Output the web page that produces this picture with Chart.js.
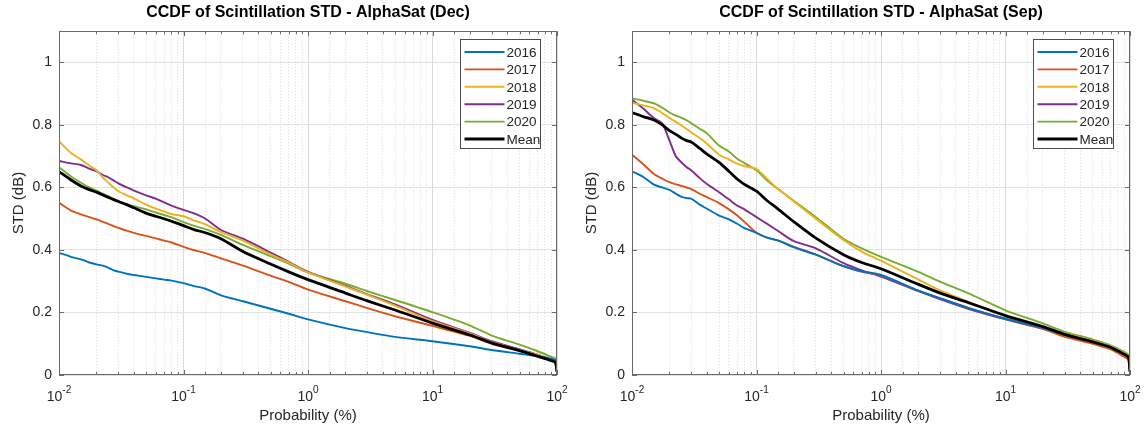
<!DOCTYPE html>
<html>
<head>
<meta charset="utf-8">
<script src="https://cdn.jsdelivr.net/npm/chart.js@4.4.1/dist/chart.umd.min.js"></script>
<style>
  html, body { margin: 0; padding: 0; background: #fff; }
  .wrap { position: absolute; top: 0; width: 572px; height: 428px; }
  #w1 { left: 0; }
  #w2 { left: 573px; }
</style>
</head>
<body>
<div class="wrap" id="w1"><canvas id="chartDec" width="572" height="428"></canvas></div>
<div class="wrap" id="w2"><canvas id="chartSep" width="572" height="428"></canvas></div>
<script>
// probability axis (%), shared by every curve
const prob = [0.01, 0.0125, 0.015, 0.0175, 0.02, 0.0225, 0.025, 0.0275, 0.03, 0.035, 0.04, 0.05, 0.06, 0.07, 0.08,
  0.1, 0.12, 0.15, 0.2, 0.3, 0.5, 0.7, 1, 2, 3, 5, 10, 20, 30, 50, 70, 90, 97, 100];

const seriesNames = ['2016', '2017', '2018', '2019', '2020', 'Mean'];
const seriesColors = ['#0072BD', '#D95319', '#EDB120', '#7E2F8E', '#77AC30', '#000000'];

// December
const dec2016 = [0.391, 0.378, 0.370, 0.360, 0.354, 0.350, 0.343, 0.335, 0.331, 0.324, 0.320, 0.314, 0.309, 0.305, 0.302,
  0.294, 0.285, 0.276, 0.255, 0.236, 0.212, 0.196, 0.178, 0.150, 0.137, 0.122, 0.108, 0.092, 0.080, 0.068, 0.060, 0.052, 0.048, 0.010];
const dec2017 = [0.551, 0.526, 0.514, 0.505, 0.498, 0.490, 0.483, 0.476, 0.471, 0.462, 0.455, 0.445, 0.437, 0.430, 0.424,
  0.410, 0.400, 0.390, 0.373, 0.350, 0.318, 0.298, 0.273, 0.236, 0.214, 0.188, 0.157, 0.125, 0.100, 0.077, 0.062, 0.047, 0.042, 0.010];
const dec2018 = [0.748, 0.710, 0.690, 0.670, 0.655, 0.632, 0.615, 0.600, 0.588, 0.575, 0.565, 0.545, 0.532, 0.523, 0.515,
  0.508, 0.495, 0.482, 0.457, 0.430, 0.385, 0.360, 0.328, 0.283, 0.256, 0.222, 0.172, 0.132, 0.105, 0.080, 0.064, 0.048, 0.043, 0.010];
const dec2019 = [0.685, 0.677, 0.672, 0.660, 0.652, 0.640, 0.632, 0.622, 0.613, 0.600, 0.590, 0.575, 0.564, 0.552, 0.542,
  0.528, 0.518, 0.500, 0.464, 0.436, 0.392, 0.362, 0.330, 0.285, 0.258, 0.226, 0.176, 0.135, 0.108, 0.082, 0.065, 0.049, 0.044, 0.010];
const dec2020 = [0.665, 0.635, 0.615, 0.600, 0.590, 0.580, 0.572, 0.563, 0.556, 0.547, 0.540, 0.530, 0.520, 0.512, 0.505,
  0.489, 0.478, 0.467, 0.448, 0.416, 0.380, 0.356, 0.328, 0.292, 0.268, 0.240, 0.201, 0.158, 0.126, 0.097, 0.076, 0.058, 0.052, 0.010];
const decMean = [0.651, 0.624, 0.605, 0.593, 0.585, 0.576, 0.568, 0.561, 0.555, 0.545, 0.535, 0.518, 0.508, 0.500, 0.492,
  0.478, 0.466, 0.455, 0.436, 0.395, 0.355, 0.330, 0.305, 0.262, 0.237, 0.208, 0.166, 0.128, 0.102, 0.078, 0.060, 0.046, 0.040, 0.010];

// September
const sep2016 = [0.652, 0.632, 0.609, 0.600, 0.592, 0.580, 0.570, 0.566, 0.564, 0.545, 0.532, 0.510, 0.498, 0.484, 0.470,
  0.455, 0.440, 0.430, 0.408, 0.385, 0.348, 0.332, 0.320, 0.270, 0.245, 0.215, 0.180, 0.150, 0.128, 0.108, 0.090, 0.068, 0.058, 0.010];
const sep2017 = [0.705, 0.672, 0.643, 0.628, 0.617, 0.610, 0.605, 0.600, 0.595, 0.580, 0.569, 0.550, 0.530, 0.510, 0.490,
  0.455, 0.440, 0.430, 0.410, 0.385, 0.348, 0.330, 0.318, 0.270, 0.245, 0.215, 0.180, 0.148, 0.122, 0.100, 0.082, 0.058, 0.050, 0.010];
const sep2018 = [0.871, 0.862, 0.854, 0.838, 0.822, 0.810, 0.798, 0.787, 0.776, 0.758, 0.740, 0.705, 0.690, 0.676, 0.668,
  0.659, 0.630, 0.594, 0.555, 0.500, 0.432, 0.395, 0.366, 0.305, 0.270, 0.235, 0.188, 0.155, 0.132, 0.110, 0.092, 0.070, 0.060, 0.010];
const sep2019 = [0.881, 0.850, 0.822, 0.805, 0.750, 0.700, 0.680, 0.665, 0.654, 0.630, 0.611, 0.585, 0.562, 0.542, 0.530,
  0.505, 0.485, 0.460, 0.428, 0.405, 0.358, 0.335, 0.315, 0.268, 0.242, 0.212, 0.178, 0.148, 0.126, 0.105, 0.088, 0.066, 0.057, 0.010];
const sep2020 = [0.885, 0.877, 0.869, 0.855, 0.840, 0.830, 0.823, 0.815, 0.805, 0.788, 0.773, 0.734, 0.715, 0.692, 0.678,
  0.655, 0.625, 0.594, 0.557, 0.505, 0.436, 0.405, 0.378, 0.330, 0.298, 0.262, 0.207, 0.165, 0.138, 0.114, 0.095, 0.074, 0.064, 0.010];
const sepMean = [0.840, 0.826, 0.816, 0.800, 0.782, 0.770, 0.758, 0.750, 0.745, 0.725, 0.707, 0.680, 0.652, 0.627, 0.610,
  0.588, 0.560, 0.530, 0.490, 0.438, 0.385, 0.360, 0.340, 0.290, 0.262, 0.232, 0.190, 0.155, 0.130, 0.106, 0.088, 0.066, 0.057, 0.010];

const decSeries = [dec2016, dec2017, dec2018, dec2019, dec2020, decMean];
const sepSeries = [sep2016, sep2017, sep2018, sep2019, sep2020, sepMean];

const xDecades = [0.01, 0.1, 1, 10, 100];
const xExponents = ['-2', '-1', '0', '1', '2'];
const yTicks = [0, 0.2, 0.4, 0.6, 0.8, 1];

const FONT = '"Liberation Sans", Arial, Helvetica, sans-serif';
const TXT = '#262626';

function isDecade(v) {
  const l = Math.log10(v);
  return Math.abs(l - Math.round(l)) < 1e-6;
}

// box, inward ticks, 10^n labels and the boxed legend, MATLAB style
const matlabLook = {
  id: 'matlabLook',
  afterDraw(chart) {
    const { ctx, chartArea: a, scales: { x, y } } = chart;
    ctx.save();
    ctx.strokeStyle = '#6a6a6a';
    ctx.lineWidth = 1;
    ctx.beginPath();
    x.ticks.forEach(t => {
      const px = Math.round(x.getPixelForValue(t.value)) + 0.5;
      const len = isDecade(t.value) ? 5 : 3;
      ctx.moveTo(px, a.bottom); ctx.lineTo(px, a.bottom - len);
      ctx.moveTo(px, a.top); ctx.lineTo(px, a.top + len);
    });
    y.ticks.forEach(t => {
      const py = Math.round(y.getPixelForValue(t.value)) + 0.5;
      ctx.moveTo(a.left, py); ctx.lineTo(a.left + 5, py);
      ctx.moveTo(a.right, py); ctx.lineTo(a.right - 5, py);
    });
    ctx.stroke();
    ctx.strokeRect(Math.round(a.left) + 0.5, Math.round(a.top) + 0.5, Math.round(a.width) - 1, Math.round(a.height) - 1);

    // decade labels 10^n
    ctx.fillStyle = TXT;
    ctx.textBaseline = 'alphabetic';
    ctx.textAlign = 'left';
    xDecades.forEach((v, i) => {
      const px = x.getPixelForValue(v);
      ctx.font = '14px ' + FONT;
      const w1 = ctx.measureText('10').width;
      ctx.font = '10px ' + FONT;
      const w2 = ctx.measureText(xExponents[i]).width;
      const left = px - (w1 + w2) / 2;
      ctx.font = '14px ' + FONT;
      ctx.fillText('10', left, a.bottom + 26);
      ctx.font = '10px ' + FONT;
      ctx.fillText(xExponents[i], left + w1, a.bottom + 18);
    });

    // legend
    const boxW = 80, boxH = 109, rowH = 17.4;
    const bx = Math.round(a.right - 17 - boxW) + 0.5;
    const by = Math.round(a.top + 8) + 0.5;
    ctx.fillStyle = '#ffffff';
    ctx.fillRect(bx, by, boxW, boxH);
    ctx.strokeStyle = '#4d4d4d';
    ctx.lineWidth = 1;
    ctx.strokeRect(bx, by, boxW, boxH);
    ctx.font = '13.5px ' + FONT;
    ctx.textBaseline = 'middle';
    chart.data.datasets.forEach((ds, i) => {
      const ry = by + 12.5 + i * rowH;
      ctx.strokeStyle = ds.borderColor;
      ctx.lineWidth = ds.borderWidth;
      ctx.beginPath();
      ctx.moveTo(bx + 4, ry);
      ctx.lineTo(bx + 44, ry);
      ctx.stroke();
      ctx.fillStyle = TXT;
      ctx.fillText(ds.label, bx + 46, ry + 1);
    });
    ctx.restore();
  }
};

function makeChart(canvasId, titleText, series) {
  const datasets = series.map((vals, i) => ({
    label: seriesNames[i],
    data: prob.map((p, k) => ({ x: p, y: vals[k] })),
    borderColor: seriesColors[i],
    borderWidth: i === 5 ? 2.8 : 1.9,
    pointRadius: 0,
    fill: false,
    tension: 0.25,
    order: i === 5 ? 0 : 1
  }));

  new Chart(document.getElementById(canvasId), {
    type: 'line',
    data: { datasets },
    options: {
      responsive: false,
      animation: false,
      layout: { padding: { left: 6, right: 15, top: 0, bottom: 0 } },
      plugins: {
        legend: { display: false },
        tooltip: { enabled: false },
        title: {
          display: true,
          text: titleText,
          fullSize: false,
          color: '#000',
          font: { family: FONT, size: 16, weight: 'bold' },
          padding: { top: 3, bottom: 9 }
        }
      },
      scales: {
        x: {
          type: 'logarithmic',
          min: 0.01,
          max: 100,
          afterFit(s) { s.height = 53; },
          ticks: { autoSkip: false, maxRotation: 0, callback: () => '' },
          grid: {
            drawTicks: false,
            color: c => (c.tick && isDecade(c.tick.value)) ? '#dadada' : '#dcdcdc'
          },
          border: {
            display: false,
            dash: c => (c.tick && !isDecade(c.tick.value)) ? [1, 2] : []
          },
          title: {
            display: true,
            text: 'Probability (%)',
            color: TXT,
            font: { family: FONT, size: 15 },
            padding: { top: 0, bottom: 3 }
          }
        },
        y: {
          min: 0,
          max: 1.1,
          afterBuildTicks(s) { s.ticks = yTicks.map(v => ({ value: v })); },
          afterFit(s) { s.width = 53; },
          ticks: {
            padding: 7,
            color: TXT,
            font: { family: FONT, size: 14 },
            callback: v => String(v)
          },
          grid: { drawTicks: false, color: '#e2e2e2' },
          border: { display: false },
          title: {
            display: true,
            text: 'STD (dB)',
            color: TXT,
            font: { family: FONT, size: 15 },
            padding: { top: 4, bottom: 0 }
          }
        }
      }
    },
    plugins: [matlabLook]
  });
}

makeChart('chartDec', 'CCDF of Scintillation STD - AlphaSat (Dec)', decSeries);
makeChart('chartSep', 'CCDF of Scintillation STD - AlphaSat (Sep)', sepSeries);
</script>
</body>
</html>
